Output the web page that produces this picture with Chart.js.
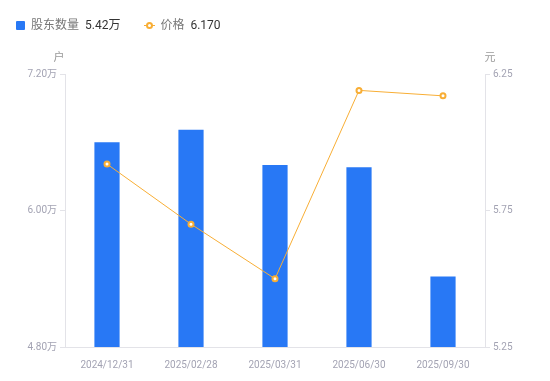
<!DOCTYPE html>
<html>
<head>
<meta charset="utf-8">
<script src="https://cdn.jsdelivr.net/npm/chart.js@4"></script>
<style>
  html, body { margin: 0; padding: 0; background: #fff; }
  #wrap { position: relative; width: 550px; height: 381px; }
  #legend { position: absolute; left: 16px; top: 16px; font-family: Roboto, "Noto Sans CJK SC", sans-serif; font-size: 12px; line-height: 18px; display: flex; align-items: center; white-space: nowrap; }
  .item { display: flex; align-items: center; margin-right: 24px; }
  .sq { width: 9px; height: 9px; background: #2878f5; border-radius: 1px; margin-right: 6px; }
  .ln { position: relative; width: 11px; height: 9px; margin-right: 5px; }
  .ln:before { content: ""; position: absolute; left: 0; right: 0; top: 4px; height: 1px; background: #f8ae35; }
  .ln:after { content: ""; position: absolute; left: 2px; top: 1px; width: 3px; height: 3px; border: 2px solid #f8ae35; border-radius: 50%; background: #fff; }
  .nm { color: #777; margin-right: 6px; }
  .vl { color: #333; }
  canvas { position: absolute; left: 0; top: 0; }
</style>
</head>
<body>
<div id="wrap">
  <canvas id="c" width="550" height="381"></canvas>
  <div id="legend"></div>
</div>
<script>
const categories = ["2024/12/31", "2025/02/28", "2025/03/31", "2025/06/30", "2025/09/30"];
const holders = [6.60, 6.71, 6.40, 6.38, 5.42];   // 万户
const prices = [5.92, 5.70, 5.50, 6.19, 6.17];    // 元
const leftTicks = [4.80, 6.00, 7.20];
const rightTicks = [5.25, 5.75, 6.25];
const seriesNames = ["股东数量", "价格"];

const lg = document.getElementById('legend');
lg.innerHTML =
  '<div class="item"><div class="sq"></div><span class="nm">' + seriesNames[0] + '</span><span class="vl">' + holders[holders.length - 1].toFixed(2) + '万</span></div>' +
  '<div class="item"><div class="ln"></div><span class="nm">' + seriesNames[1] + '</span><span class="vl">' + prices[prices.length - 1].toFixed(3) + '</span></div>';

const FONT = 'Roboto, "Noto Sans CJK SC", sans-serif';
const tickColor = '#a3a3b3';
const axisColor = '#e3e3e8';

const unitTitles = {
  id: 'unitTitles',
  afterDraw(chart) {
    const ctx = chart.ctx;
    ctx.save();
    ctx.font = '11px ' + FONT;
    ctx.fillStyle = '#999';
    ctx.textBaseline = 'middle';
    ctx.textAlign = 'center';
    const yl = chart.scales.yL, yr = chart.scales.yR;
    ctx.fillText('户', yl.right - 6, yl.top - 16);
    ctx.fillText('元', yr.left + 5, yr.top - 16);
    ctx.restore();
  }
};

new Chart(document.getElementById('c'), {
  data: {
    labels: categories,
    datasets: [
      {
        type: 'line',
        label: seriesNames[1],
        data: prices,
        yAxisID: 'yR',
        borderColor: '#f8ae35',
        borderWidth: 1,
        pointRadius: 2.5,
        pointBorderWidth: 2,
        pointBackgroundColor: '#fff',
        pointBorderColor: '#f8ae35',
        tension: 0,
        order: 0
      },
      {
        type: 'bar',
        label: seriesNames[0],
        data: holders,
        yAxisID: 'yL',
        backgroundColor: '#2878f5',
        categoryPercentage: 1,
        barPercentage: 0.3,
        order: 1
      }
    ]
  },
  options: {
    responsive: false,
    animation: false,
    layout: { padding: { left: 0, right: 0, top: 74, bottom: 0 } },
    plugins: { legend: { display: false }, tooltip: { enabled: false } },
    scales: {
      x: {
        grid: { display: false },
        border: { display: true, color: axisColor },
        ticks: { color: tickColor, font: { family: FONT, size: 10 }, padding: 4, maxRotation: 0 },
        afterFit(s) { s.height = 34; }
      },
      yL: {
        position: 'left',
        min: 4.80, max: 7.20,
        afterBuildTicks(s) { s.ticks = leftTicks.map(v => ({ value: v })); },
        grid: { drawOnChartArea: false, color: axisColor, tickLength: 5 },
        border: { display: true, color: axisColor },
        ticks: { color: tickColor, font: { family: FONT, size: 10 }, padding: 3, callback: v => v.toFixed(2) + '万' },
        afterFit(s) { s.width = 65; }
      },
      yR: {
        position: 'right',
        min: 5.25, max: 6.25,
        afterBuildTicks(s) { s.ticks = rightTicks.map(v => ({ value: v })); },
        grid: { drawOnChartArea: false, color: axisColor, tickLength: 5 },
        border: { display: true, color: axisColor },
        ticks: { color: tickColor, font: { family: FONT, size: 10 }, padding: 3, callback: v => v.toFixed(2) },
        afterFit(s) { s.width = 65; }
      }
    }
  },
  plugins: [unitTitles]
});
</script>
</body>
</html>
